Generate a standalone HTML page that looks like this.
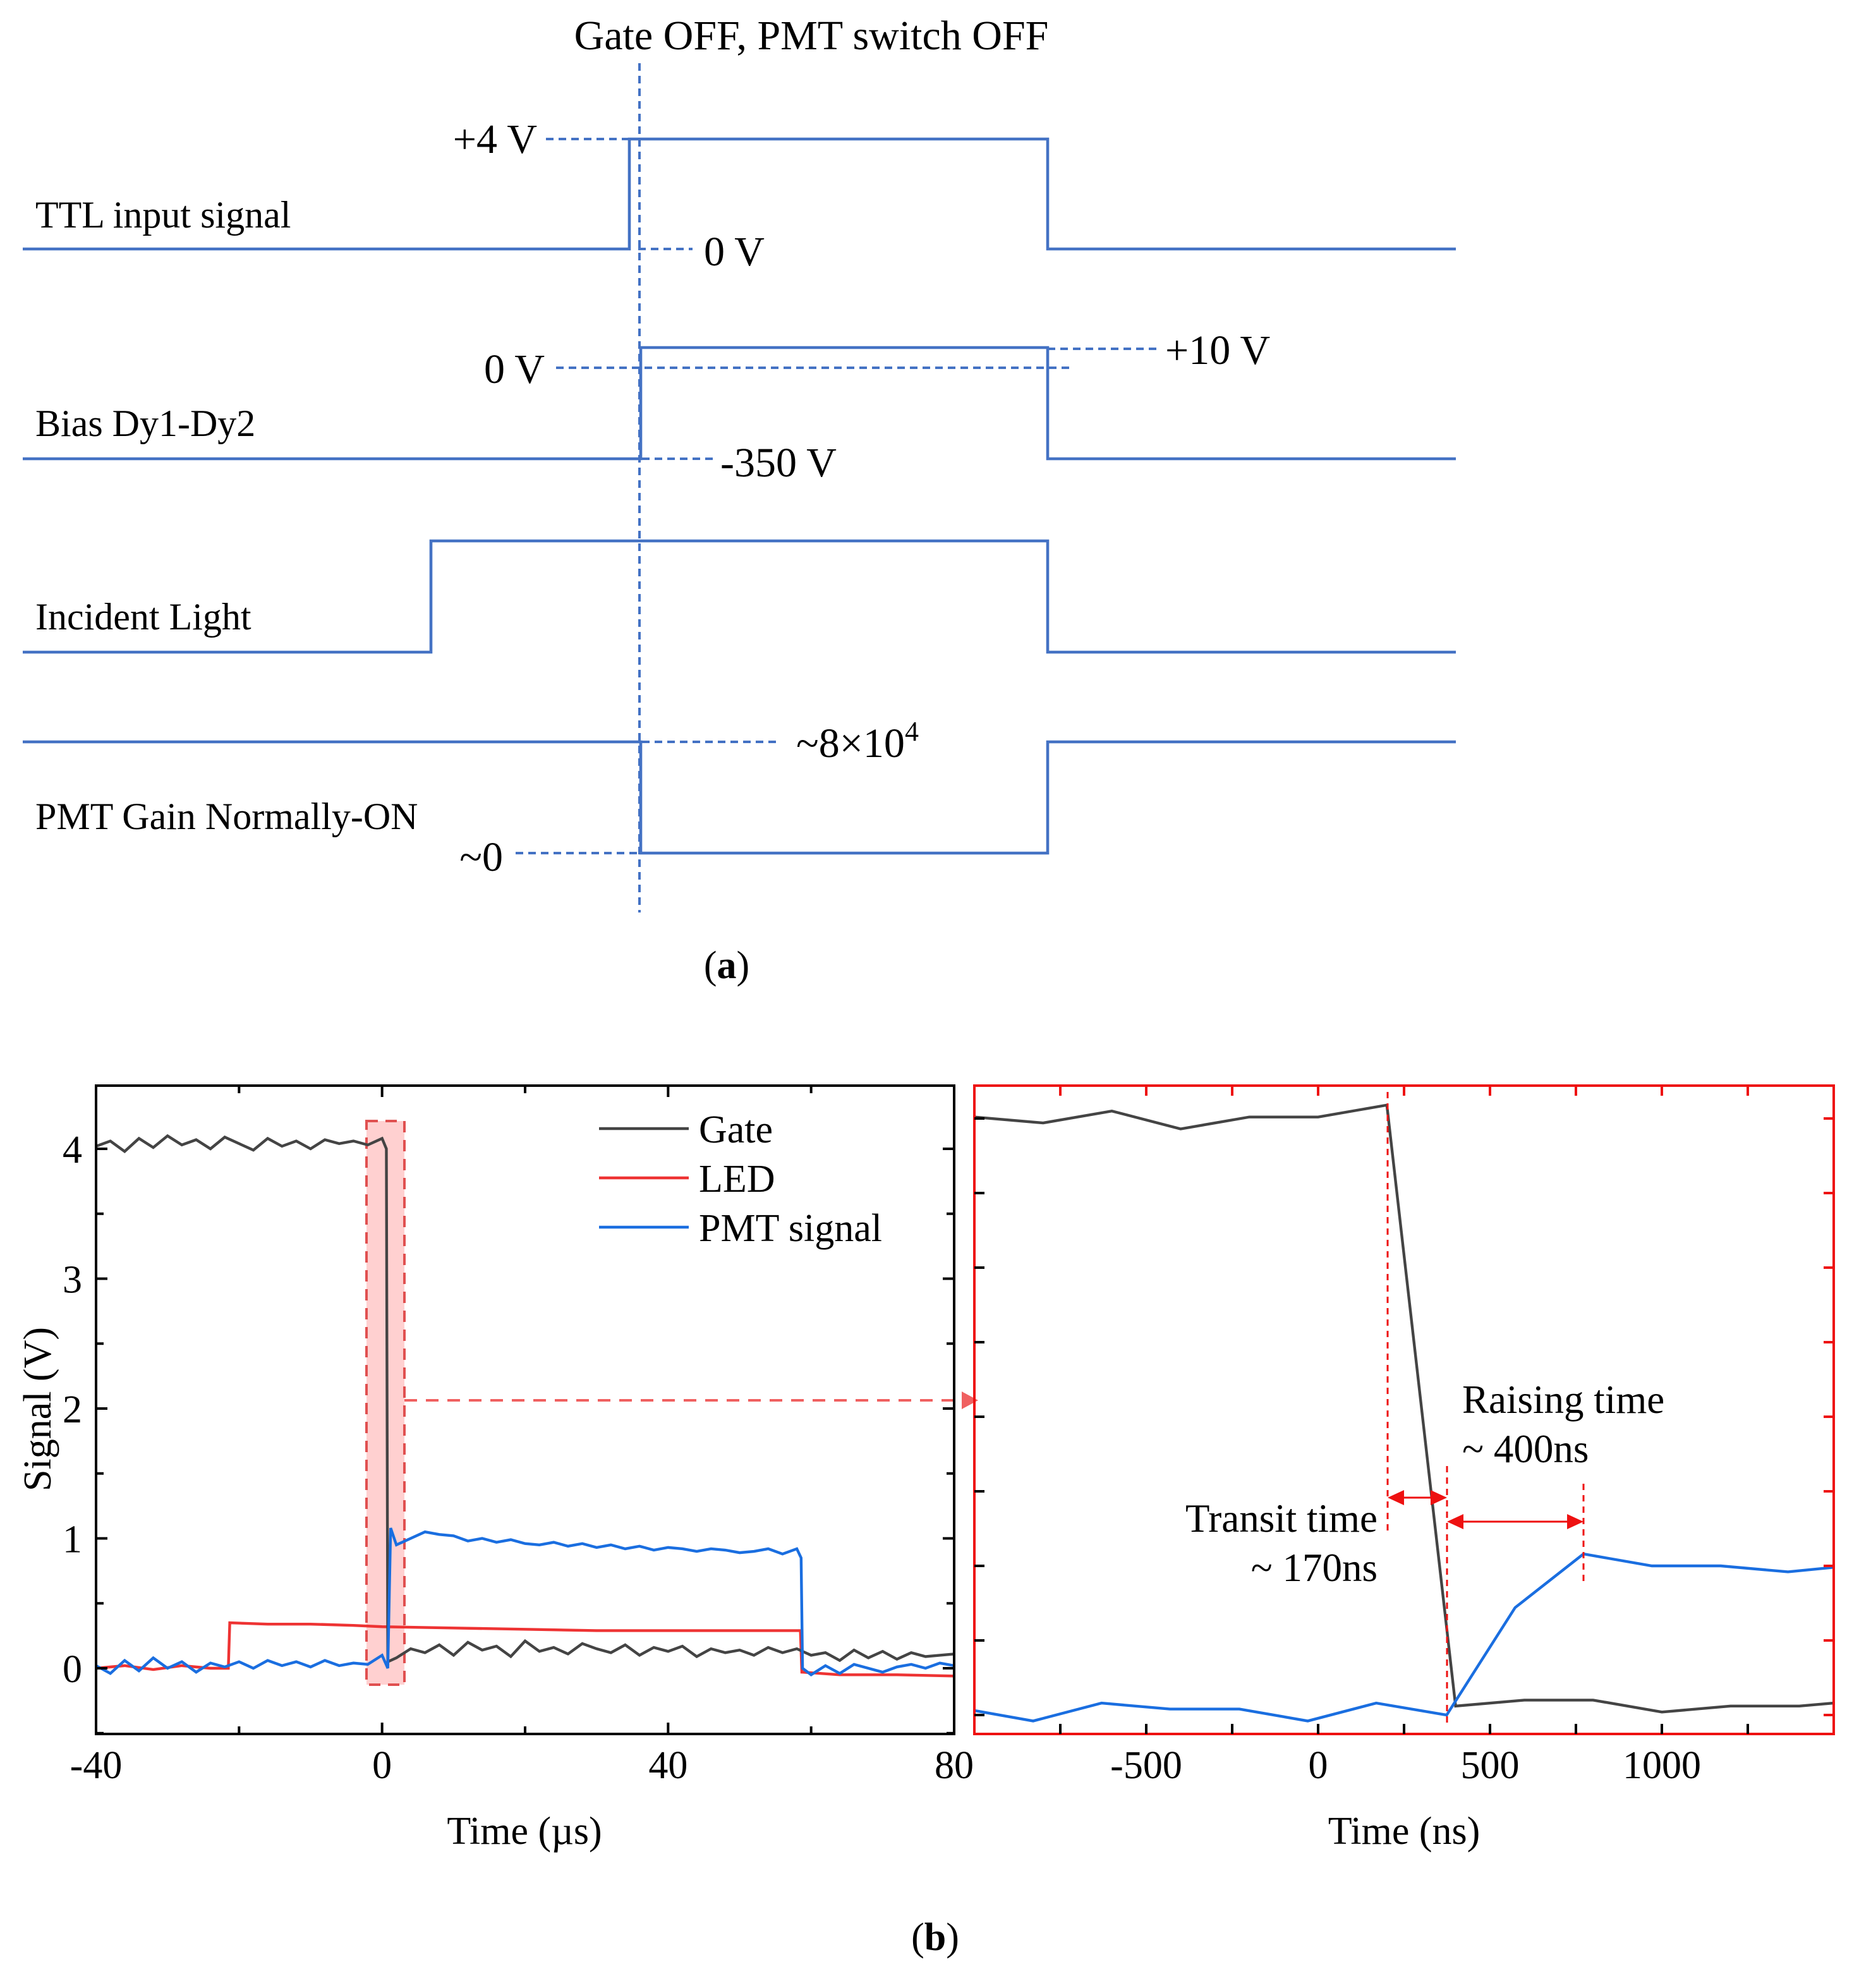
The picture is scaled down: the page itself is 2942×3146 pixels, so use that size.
<!DOCTYPE html>
<html><head><meta charset="utf-8"><style>
html,body{margin:0;padding:0;background:#fff}
svg{display:block}
text{font-family:"Liberation Serif",serif;fill:#000}
</style></head><body>
<svg id="fig" width="2942" height="3146" viewBox="0 0 1471 1573" xmlns="http://www.w3.org/2000/svg">
<g fill="none" stroke="#4472c4" stroke-width="2.3">
  <text x="642" y="39" font-size="33" text-anchor="middle" stroke="none">Gate OFF, PMT switch OFF</text>
  <line x1="506" y1="50" x2="506" y2="722" stroke-dasharray="6,4" stroke-width="2"/>
  <polyline points="18,197 498,197 498,110 829,110 829,197 1152,197"/>
  <polyline points="18,363 507,363 507,275 829,275 829,363 1152,363"/>
  <polyline points="18,516 341,516 341,428 829,428 829,516 1152,516"/>
  <polyline points="18,587 507,587 507,675 829,675 829,587 1152,587"/>
  <g stroke-dasharray="6,4" stroke-width="2">
    <line x1="432" y1="110" x2="498" y2="110"/>
    <line x1="505" y1="197" x2="548" y2="197"/>
    <line x1="440" y1="291" x2="850" y2="291"/>
    <line x1="829" y1="276" x2="918" y2="276"/>
    <line x1="508" y1="363" x2="565" y2="363"/>
    <line x1="508" y1="587" x2="615" y2="587"/>
    <line x1="408" y1="675" x2="505" y2="675"/>
  </g>
  <g stroke="none" font-size="33">
    <text x="28" y="180" font-size="30">TTL input signal</text>
    <text x="28" y="345" font-size="30">Bias Dy1-Dy2</text>
    <text x="28" y="498" font-size="30">Incident Light</text>
    <text x="28" y="656" font-size="30">PMT Gain Normally-ON</text>
    <text x="425" y="121" text-anchor="end">+4 V</text>
    <text x="557" y="210">0 V</text>
    <text x="431" y="303" text-anchor="end">0 V</text>
    <text x="922" y="288">+10 V</text>
    <text x="570" y="377">-350 V</text>
    <text x="630" y="599">~8×10<tspan font-size="22" dy="-13">4</tspan></text>
    <text x="398" y="689" text-anchor="end">~0</text>
    <text x="575" y="774" text-anchor="middle" font-size="31">(<tspan font-weight="bold">a</tspan>)</text>
    <text x="740" y="1543" text-anchor="middle" font-size="31">(<tspan font-weight="bold">b</tspan>)</text>
  </g>
</g>
<g id="left"></g>
<g id="right"></g>
</svg>
<script>
// Left chart data (µs, V)
const gateT=[-40,-38,-36,-34,-32,-30,-28,-26,-24,-22,-20,-18,-16,-14,-12,-10,-8,-6,-4,-2,0,0.6,0.8,2,4,6,8,10,12,14,16,18,20,22,24,26,28,30,32,34,36,38,40,42,44,46,48,50,52,54,56,58,60,62,64,66,68,70,72,74,76,78,80];
const gateV=[4.02,4.06,3.98,4.08,4.01,4.1,4.03,4.07,4.0,4.09,4.04,3.99,4.08,4.02,4.06,4.0,4.07,4.04,4.06,4.03,4.08,4.0,0.05,0.08,0.15,0.12,0.18,0.1,0.2,0.14,0.17,0.09,0.21,0.13,0.16,0.11,0.19,0.15,0.12,0.18,0.1,0.16,0.13,0.17,0.09,0.15,0.12,0.14,0.1,0.16,0.12,0.15,0.1,0.12,0.06,0.14,0.08,0.13,0.07,0.12,0.09,0.1,0.11];
const ledT=[-40,-36,-32,-28,-24,-21.5,-21.3,-16,-10,-4,0,10,20,30,40,50,58.5,58.7,64,72,80];
const ledV=[0.0,0.02,-0.01,0.02,0.0,0.0,0.35,0.34,0.34,0.33,0.32,0.31,0.3,0.29,0.29,0.29,0.29,-0.03,-0.05,-0.05,-0.06];
const pmtT=[-40,-38,-36,-34,-32,-30,-28,-26,-24,-22,-20,-18,-16,-14,-12,-10,-8,-6,-4,-2,0,0.8,1.2,2,4,6,8,10,12,14,16,18,20,22,24,26,28,30,32,34,36,38,40,42,44,46,48,50,52,54,56,58,58.6,58.8,60,62,64,66,68,70,72,74,76,78,80];
const pmtV=[0.02,-0.04,0.06,-0.02,0.08,0.0,0.05,-0.03,0.04,0.01,0.05,0.0,0.06,0.02,0.05,0.01,0.06,0.02,0.04,0.03,0.1,0.0,1.08,0.95,1.0,1.05,1.03,1.02,0.98,1.0,0.97,0.99,0.96,0.95,0.97,0.94,0.96,0.93,0.95,0.92,0.94,0.91,0.93,0.92,0.9,0.92,0.91,0.89,0.9,0.92,0.88,0.92,0.85,0.0,-0.05,0.02,-0.04,0.03,0.0,-0.03,0.01,0.03,0.0,0.04,0.02];
const leftXTicks=[-40,0,40,80];
const leftYTicks=[0,1,2,3,4];
// Right chart data (ns, V)
const gateNsT=[-1000,-800,-600,-400,-200,0,200,400,600,800,1000,1200,1400,1500];
const gateNsV=[4.01,3.97,4.05,3.93,4.01,4.01,4.09,0.06,0.10,0.10,0.02,0.06,0.06,0.08];
const pmtNsT=[-1000,-829,-630,-431,-229,-30,169,374,573,772,971,1171,1367,1500];
const pmtNsV=[0.03,-0.04,0.08,0.04,0.04,-0.04,0.08,0.00,0.72,1.08,1.00,1.00,0.96,0.99];
const rightXTicks=[-500,0,500,1000];

const NS='http://www.w3.org/2000/svg';
function mk(tag,attrs,parent){const e=document.createElementNS(NS,tag);for(const k in attrs)e.setAttribute(k,attrs[k]);parent.appendChild(e);return e;}
function path(xs,ys,fx,fy){return xs.map((t,i)=>(i?'L':'M')+fx(t).toFixed(2)+','+fy(ys[i]).toFixed(2)).join('');}

// LEFT
const L=document.getElementById('left');
const lx=t=>76+(t+40)*679/120, ly=v=>1320-v*102.75;
let e;
e=mk('rect',{x:290,y:887,width:30,height:446,fill:'#ffb0b0','fill-opacity':0.6,stroke:'#e05050','stroke-width':2,'stroke-dasharray':'9,6'},L);


e=mk('line',{x1:320,y1:1108,x2:762,y2:1108,stroke:'#f06060','stroke-width':2,'stroke-dasharray':'10,7'},L);


mk('polygon',{points:'761,1101 774,1108 761,1115',fill:'#f06060'},L);
const series=[[ledT,ledV,'#ee3333','led-line'],[gateT,gateV,'#444','gate-line'],[pmtT,pmtV,'#1a6ee0','pmt-line']];
series.forEach(s=>{e=mk('path',{d:path(s[0],s[1],lx,ly),fill:'none',stroke:s[2],'stroke-width':2.2},L);

});
e=mk('rect',{x:76,y:859,width:679,height:513,fill:'none',stroke:'#000','stroke-width':2},L);


for(let t=-40;t<=80;t+=20){const x=lx(t);const len=(t%40===0)?9:6;
mk('line',{x1:x,y1:1372,x2:x,y2:1372-len,stroke:'#000','stroke-width':2},L);
mk('line',{x1:x,y1:859,x2:x,y2:859+len,stroke:'#000','stroke-width':2},L);}
for(let v=-0.5;v<=4.5;v+=0.5){const y=ly(v);if(y<859||y>1372)continue;const len=(v%1===0)?9:6;
mk('line',{x1:76,y1:y,x2:76+len,y2:y,stroke:'#000','stroke-width':2},L);
mk('line',{x1:755,y1:y,x2:755-len,y2:y,stroke:'#000','stroke-width':2},L);}
leftXTicks.forEach(t=>{e=mk('text',{x:lx(t),y:1407,'font-size':31,'text-anchor':'middle'},L);e.textContent=t;

});
leftYTicks.forEach(v=>{e=mk('text',{x:65,y:ly(v)+11,'font-size':31,'text-anchor':'end'},L);e.textContent=v;

});
e=mk('text',{x:415,y:1459,'font-size':31,'text-anchor':'middle'},L);e.textContent='Time (µs)';


e=mk('text',{x:40,y:1115,'font-size':31,'text-anchor':'middle',transform:'rotate(-90 40 1115)'},L);e.textContent='Signal (V)';


[['Gate','#444',893],['LED','#ee3333',932],['PMT signal','#1a6ee0',971]].forEach(l=>{
const g=mk('g',{},L);


mk('line',{x1:474,y1:l[2],x2:545,y2:l[2],stroke:l[1],'stroke-width':2.2},g);
const t=mk('text',{x:553,y:l[2]+11,'font-size':31},g);t.textContent=l[0];});

// RIGHT
const R=document.getElementById('right');
const rx=t=>1043+t*0.272, ry=v=>1357-v*118;
const rs=[[gateNsT,gateNsV,'#444','gate-zoom-line'],[pmtNsT,pmtNsV,'#1a6ee0','pmt-zoom-line']];
rs.forEach(s=>{e=mk('path',{d:path(s[0],s[1],rx,ry),fill:'none',stroke:s[2],'stroke-width':2.2},R);

});
e=mk('rect',{x:771,y:859,width:680,height:513,fill:'none',stroke:'#ee1111','stroke-width':2},R);


for(let t=-750;t<=1500;t+=250){const x=rx(t);if(x>1450)continue;
mk('line',{x1:x,y1:1372,x2:x,y2:1364,stroke:'#000','stroke-width':2},R);
mk('line',{x1:x,y1:859,x2:x,y2:867,stroke:'#ee1111','stroke-width':2},R);}
for(let v=0;v<=4.01;v+=0.5){const y=ry(v);
mk('line',{x1:771,y1:y,x2:779,y2:y,stroke:'#000','stroke-width':2},R);
mk('line',{x1:1451,y1:y,x2:1443,y2:y,stroke:'#ee1111','stroke-width':2},R);}
rightXTicks.forEach(t=>{e=mk('text',{x:rx(t),y:1407,'font-size':31,'text-anchor':'middle'},R);e.textContent=t;

});
e=mk('text',{x:1111,y:1459,'font-size':31,'text-anchor':'middle'},R);e.textContent='Time (ns)';


const ann=mk('g',{stroke:'#ee1111','stroke-width':1.5},R);


mk('line',{x1:1098,y1:864,x2:1098,y2:1214,'stroke-dasharray':'5,4'},ann);
mk('line',{x1:1145,y1:1160,x2:1145,y2:1365,'stroke-dasharray':'5,4'},ann);
mk('line',{x1:1253,y1:1174,x2:1253,y2:1253,'stroke-dasharray':'5,4'},ann);
mk('line',{x1:1104,y1:1185,x2:1139,y2:1185},ann);
mk('polygon',{points:'1098,1185 1111,1179 1111,1191',fill:'#ee1111',stroke:'none'},ann);
mk('polygon',{points:'1145,1185 1132,1179 1132,1191',fill:'#ee1111',stroke:'none'},ann);
mk('line',{x1:1151,y1:1204,x2:1247,y2:1204},ann);
mk('polygon',{points:'1145,1204 1158,1198 1158,1210',fill:'#ee1111',stroke:'none'},ann);
mk('polygon',{points:'1253,1204 1240,1198 1240,1210',fill:'#ee1111',stroke:'none'},ann);
[['Transit time',1090,1212,'end'],['~ 170ns',1090,1251,'end'],['Raising time',1157,1118,'start'],['~ 400ns',1157,1157,'start']].forEach(a=>{
e=mk('text',{x:a[1],y:a[2],'font-size':31.5,'text-anchor':a[3]},R);e.textContent=a[0];

});
</script>
</body></html>
